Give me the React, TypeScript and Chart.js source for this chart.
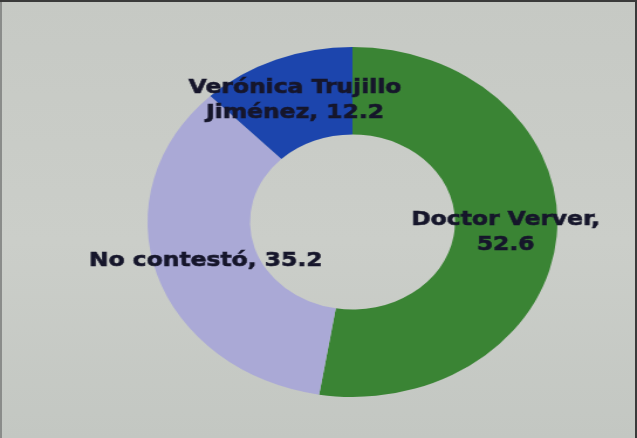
import React, { useEffect, useRef } from "react";
import { Chart, registerables } from "chart.js";

Chart.register(...registerables);

const categories = ["Doctor Verver", "No contestó", "Verónica Trujillo\nJiménez"];
const values = [52.6, 35.2, 12.2];
const breakBeforeValue = [true, false, false];
const colors = ["#3a8434", "#aaa9d6", "#1c45ad"];

const labelPlugin = {
  id: "arcLabels",
  afterDatasetsDraw(chart: any) {
    const ctx = chart.ctx;
    const meta = chart.getDatasetMeta(0);
    ctx.save();
    ctx.font = "bold 20px 'DejaVu Sans', sans-serif";
    ctx.fillStyle = "#16162b";
    ctx.strokeStyle = "#16162b";
    ctx.lineWidth = 0.6;
    ctx.textAlign = "center";
    ctx.textBaseline = "middle";
    meta.data.forEach((arc: any, i: number) => {
      const p = arc.getCenterPoint();
      const text = `${categories[i]},${breakBeforeValue[i] ? "\n" : " "}${values[i]}`;
      const lines = text.split("\n");
      const lh = 25;
      const y0 = p.y - ((lines.length - 1) * lh) / 2;
      lines.forEach((ln, k) => {
        ctx.fillText(ln, p.x, y0 + k * lh);
        ctx.strokeText(ln, p.x, y0 + k * lh);
      });
    });
    ctx.restore();
  },
};

export default function App() {
  const ref = useRef<HTMLCanvasElement | null>(null);
  useEffect(() => {
    if (!ref.current) return;
    const chart = new Chart(ref.current, {
      type: "doughnut",
      data: {
        labels: categories,
        datasets: [
          {
            data: values,
            backgroundColor: colors,
            borderWidth: 0,
          },
        ],
      },
      options: {
        animation: false,
        responsive: true,
        maintainAspectRatio: false,
        cutout: "50%",
        layout: { padding: { left: 126, right: 68, top: 47, bottom: 41 } },
        plugins: {
          legend: { display: false },
          tooltip: { enabled: false },
        },
      },
      plugins: [labelPlugin],
    });
    return () => chart.destroy();
  }, []);
  return (
    <div
      style={{
        position: "fixed",
        left: 0,
        top: 0,
        width: 637,
        height: 438,
        overflow: "hidden",
        background: "linear-gradient(180deg, #c6c9c4 0%, #cbcec9 55%, #c3c7c2 100%)",
        boxShadow: "inset 0 2px 0 #3a3a3a, inset 2px 0 0 #8a8c8a, inset -2px 0 0 #3a3a3a",
      }}
    >
      <div
        style={{
          position: "absolute",
          left: 0,
          top: 0,
          width: 544,
          height: 438,
          transform: `scaleX(${637 / 544})`,
          transformOrigin: "0 0",
        }}
      >
        <canvas ref={ref} />
      </div>
    </div>
  );
}
